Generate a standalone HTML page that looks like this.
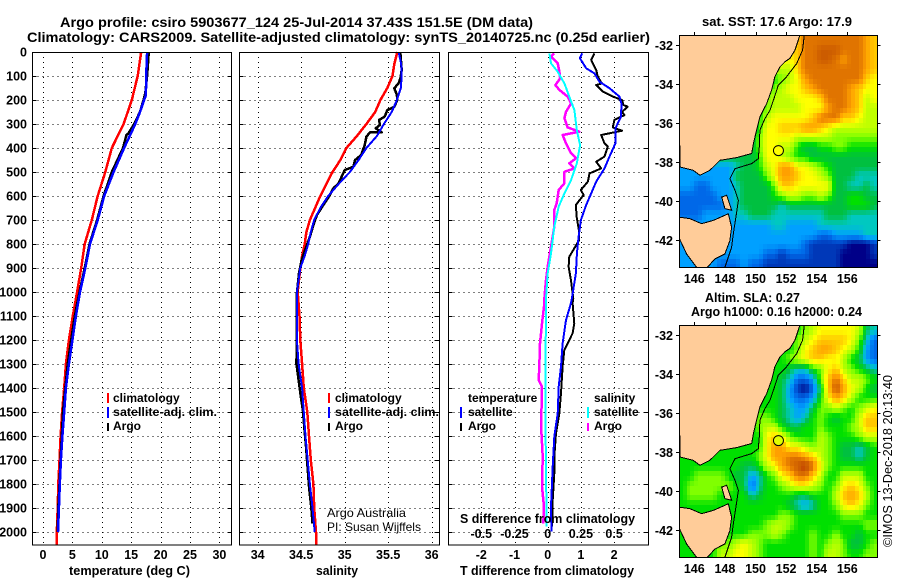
<!DOCTYPE html>
<html>
<head>
<meta charset="utf-8">
<title>Argo profile</title>
<style>
html,body{margin:0;padding:0;background:#fff;}
svg{display:block;}
text{font-family:"Liberation Sans",sans-serif;font-weight:bold;fill:#000;}
.lg{font-size:12px;}
.tk{font-size:12.5px;}
.thin{font-weight:normal;}
</style>
</head>
<body>
<svg id="chart" xmlns="http://www.w3.org/2000/svg" width="900" height="580" viewBox="0 0 900 580">
  <defs>
    <clipPath id="clip-sst"><rect x="679.5" y="35" width="198" height="232"/></clipPath>
    <clipPath id="clip-sla"><rect x="679.5" y="325" width="198" height="232"/></clipPath>
  </defs>
  <rect x="0" y="0" width="900" height="580" fill="#fff"/>
  <text x="60" y="27" font-size="13.5" textLength="473" lengthAdjust="spacingAndGlyphs">Argo profile: csiro 5903677_124 25-Jul-2014 37.43S 151.5E (DM data)</text>
  <text x="27" y="42" font-size="13.5" textLength="623" lengthAdjust="spacingAndGlyphs">Climatology: CARS2009. Satellite-adjusted climatology: synTS_20140725.nc (0.25d earlier)</text>

  <g id="p1"></g>
  <g id="p2"></g>
  <g id="p3"></g>
  <g id="m1"></g>
  <g id="m2"></g>

  <text x="69" y="575" font-size="12.5" textLength="121" lengthAdjust="spacingAndGlyphs">temperature (deg C)</text>
  <text x="316" y="575" font-size="12.5" textLength="42" lengthAdjust="spacingAndGlyphs">salinity</text>
  <text x="460" y="575" font-size="12.5" textLength="174" lengthAdjust="spacingAndGlyphs">T difference from climatology</text>

  <g>
    <rect x="107" y="393" width="2" height="10" fill="#f00"/>
    <text class="lg" x="113" y="402">climatology</text>
    <rect x="107" y="407" width="2" height="11" fill="#00f"/>
    <text class="lg" x="113" y="416" textLength="104" lengthAdjust="spacingAndGlyphs">satellite-adj. clim.</text>
    <rect x="107" y="423" width="2" height="8" fill="#000"/>
    <text class="lg" x="113" y="430">Argo</text>
  </g>
  <g>
    <rect x="328" y="393" width="2" height="10" fill="#f00"/>
    <text class="lg" x="335" y="402">climatology</text>
    <rect x="328" y="407" width="2" height="11" fill="#00f"/>
    <text class="lg" x="335" y="416" textLength="104" lengthAdjust="spacingAndGlyphs">satellite-adj. clim.</text>
    <rect x="328" y="423" width="2" height="8" fill="#000"/>
    <text class="lg" x="335" y="430">Argo</text>
  </g>
  <text class="thin" x="327" y="517" font-size="12" textLength="79" lengthAdjust="spacingAndGlyphs">Argo Australia</text>
  <text class="thin" x="327" y="531" font-size="12" textLength="94" lengthAdjust="spacingAndGlyphs">PI: Susan Wijffels</text>

  <g id="p3-overlay">
    <text class="lg" x="468" y="402">temperature</text>
    <rect x="460" y="407" width="2" height="11" fill="#00f"/>
    <text class="lg" x="468" y="416">satellite</text>
    <rect x="460" y="423" width="2" height="8" fill="#000"/>
    <text class="lg" x="468" y="430">Argo</text>
    <text class="lg" x="594" y="402">salinity</text>
    <rect x="587" y="407" width="2" height="11" fill="#0ff"/>
    <text class="lg" x="594" y="416">satellite</text>
    <rect x="587" y="423" width="2" height="8" fill="#f0f"/>
    <text class="lg" x="594" y="430">Argo</text>
    <text x="460" y="523" font-size="12.5" textLength="175" lengthAdjust="spacingAndGlyphs">S difference from climatology</text>
  </g>

  <text x="702" y="26" font-size="12.5" textLength="150" lengthAdjust="spacingAndGlyphs">sat. SST: 17.6 Argo: 17.9</text>
  <text x="705" y="302" font-size="12.5" textLength="95" lengthAdjust="spacingAndGlyphs">Altim. SLA: 0.27</text>
  <text x="691" y="316" font-size="12.5" textLength="171" lengthAdjust="spacingAndGlyphs">Argo h1000: 0.16 h2000: 0.24</text>
  <text class="thin" font-size="12.5" transform="translate(892,547) rotate(-90)" textLength="172" lengthAdjust="spacingAndGlyphs">©IMOS 13-Dec-2018 20:13:40</text>
</svg>
<script>
// ---------- profile data ----------
const gridDepths = [100,200,300,400,500,600,700,800,900,1000,1100,1200,1300,1400,1500,1600,1700,1800,1900,2000];
const depthLabels = [0,100,200,300,400,500,600,700,800,900,1000,1100,1200,1300,1400,1500,1600,1700,1800,1900,2000];
const tempTicks = [0,5,10,15,20,25,30];
const salTicks = [34,34.5,35,35.5,36];
const tDiffTicks = [-2,-1,0,1,2];
const sDiffTicks = [-0.5,-0.25,0,0.25,0.5];

const tempClimDepth = [0,100,200,300,400,500,600,700,800,900,1000,1100,1200,1300,1400,1500,1600,1700,1800,1900,2000,2055];
const tempClim = [16.7,16.1,15.1,13.7,11.7,10.6,9.3,8.3,7.1,6.5,5.8,5.06,4.4,3.9,3.6,3.25,3.0,2.8,2.6,2.5,2.35,2.3];
const tempSatDepth = [0,100,180,200,250,300,400,500,600,700,800,900,1000,1100,1200,1300,1400,1500,1600,1700,1800,1900,2000];
const tempSat = [17.7,17.55,17.5,17.2,16.5,15.7,13.8,12,10.4,9.3,8,7.2,6.3,5.6,5,4.4,3.9,3.6,3.3,3.05,2.85,2.7,2.55];
const tempArgoDepth = [0,100,170,200,250,300,340,345,400,500,600,700,800,900,1000,1100,1200,1300,1400,1500,1600,1700,1800,1900,2000];
const tempArgo = [18,17.7,17.4,17.1,16.5,15.5,14.5,14.2,13.6,11.7,10.3,9.2,7.9,7.1,6.2,5.4,4.8,4.2,3.8,3.4,3.2,3,2.8,2.6,2.5];

const salClimDepth = [0,50,100,150,200,250,300,350,400,450,500,550,600,650,700,750,800,850,900,1000,1100,1200,1300,1400,1500,1600,1700,1800,1900,2000,2055];
const salClim = [35.605,35.57,35.55,35.49,35.41,35.35,35.25,35.14,35.02,34.95,34.86,34.79,34.72,34.66,34.6,34.56,34.54,34.51,34.49,34.46,34.48,34.49,34.51,34.53,34.57,34.59,34.61,34.64,34.65,34.67,34.67];
const salSatDepth = [0,50,100,150,200,250,300,350,400,450,500,550,600,650,700,750,800,850,900,950,1000,1100,1200,1300,1400,1500,1600,1700,1800,1900,2000];
const salSat = [35.62,35.65,35.655,35.645,35.6,35.54,35.45,35.37,35.25,35.16,35.06,34.93,34.81,34.72,34.65,34.61,34.58,34.54,34.49,34.47,34.45,34.45,34.45,34.47,34.51,34.53,34.55,34.575,34.6,34.63,34.655];
const salArgoDepth = [5,75,110,130,151,179,200,228,242,269,283,304,318,335,335,353,388,429,450,478,492,519,547,568,596,637,679,721,769,825,867,922,1006,1103,1200,1297,1367,1436,1492,1561,1644,1714,1811,1894,1964];
const salArgo = [35.64,35.655,35.64,35.62,35.57,35.6,35.605,35.57,35.49,35.46,35.395,35.405,35.356,35.425,35.29,35.25,35.23,35.19,35.12,35.10,35.0,34.965,34.93,34.87,34.83,34.755,34.68,34.64,34.6,34.545,34.505,34.475,34.45,34.45,34.45,34.445,34.47,34.495,34.52,34.535,34.555,34.57,34.59,34.615,34.63];

const tDiffSatDepth = [6,26,68,89,124,151,186,214,269,318,381,436,485,540,589,637,700,769,839,922,1026,1047,1117,1214,1311,1394,1506,1603,1728,1894,1998];
const tDiffSat = [1.04,0.97,1.16,1.41,1.56,1.86,2.16,2.22,2.21,2.04,2.04,1.86,1.71,1.46,1.31,1.16,1.0,0.93,0.88,0.85,0.73,0.70,0.55,0.45,0.40,0.33,0.30,0.20,0.15,0.10,0.11];
const tDiffArgoDepth = [6,33,75,103,131,138,165,186,200,221,228,249,263,283,314,328,346,381,394,436,457,485,506,540,575,596,637,686,749,783,818,853,894,950,1026,1047,1131,1172,1242,1311,1422,1506,1589,1686,1756,1867,1978];
const tDiffArgo = [1.41,1.31,1.46,1.51,1.63,1.46,1.66,1.96,2.24,2.28,2.41,2.24,2.31,2.01,1.96,2.24,1.61,1.71,1.81,1.71,1.46,1.61,1.26,1.21,1.0,1.08,0.85,0.87,0.95,0.95,0.8,0.65,0.63,0.7,0.77,0.75,0.80,0.75,0.50,0.45,0.40,0.35,0.25,0.20,0.20,0.15,0.13];
const sDiffArgoDepth = [6,19,47,82,110,138,158,186,214,249,276,314,332,346,381,422,443,464,485,499,547,575,631,658,728,811,894,950,1026,1047,1131,1214,1311,1367,1394,1561,1686,1811,1894,1964];
const sDiffArgo = [0.05,0.025,0.075,0.088,0.093,0.058,0.088,0.15,0.176,0.138,0.126,0.15,0.239,0.113,0.138,0.176,0.214,0.163,0.201,0.126,0.126,0.083,0.068,0.05,0.05,0.025,0,-0.013,-0.025,-0.025,-0.043,-0.058,-0.063,-0.068,-0.043,-0.05,-0.038,-0.043,-0.028,-0.033];
const sDiffSatDepth = [6,47,82,131,186,242,325,388,464,533,589,644,728,839,922,1026,1117,1311,1478,1728,1978];
const sDiffSat = [0.013,0.025,0.075,0.126,0.163,0.201,0.219,0.244,0.219,0.176,0.126,0.083,0.05,0.025,0,-0.013,-0.013,-0.018,-0.018,-0.013,-0.008];

// ---------- map data: colour level per 0.5 degree cell, rows north to south, right-aligned to the east edge ----------
const lonTicks = [146,148,150,152,154,156];
const latTicks = [-32,-34,-36,-38,-40,-42];
const sstLevels = [
[10,12,12,12,12,12,12,12,12,11,10],
[10,12,12,13,13,13,12,12,12,11,10],
[9,10,12,12,13,13,12,11,12,12,11,10],
[8,8,10,12,12,12,12,12,12,12,12,11,10],
[6,7,8,9,11,12,12,12,12,12,12,12,10,9],
[6,7,8,9,9,10,11,12,12,12,12,11,10,9,9],
[7,8,8,8,9,9,9,10,12,12,12,11,10,8,9],
[6,7,8,8,8,8,9,9,9,11,12,12,11,10,8,8],
[6,8,9,9,9,9,9,10,12,12,12,10,10,9,8,8],
[5,6,9,9,10,10,10,11,11,10,9,8,8,8,8,8,8],
[5,7,9,9,9,9,8,8,8,8,8,7,7,7,7,7,7],
[5,7,9,9,8,8,6,5,5,6,6,7,7,6,6,6,6],
[5,6,9,9,8,7,6,6,5,5,5,5,5,5,5,5,5],
[3,3,3,3,3,3,3,4,5,5,6,8,9,11,11,9,9,8,7,6,5,5,5,5,5,5],
[3,3,3,3,3,3,3,5,5,5,5,7,9,11,11,10,9,9,8,7,5,5,5,4,4,4],
[3,3,2,2,3,3,3,4,5,5,5,5,7,10,10,9,9,9,9,9,5,5,4,4,5,4],
[2,2,2,2,2,3,3,4,5,5,5,5,6,7,8,8,7,7,8,7,5,5,6,6,5,5],
[2,2,2,2,2,2,3,4,5,5,5,5,5,4,5,5,5,5,5,5,5,5,6,6,6,5],
[2,2,2,3,3,3,3,4,4,5,5,5,4,4,4,4,4,4,4,5,5,5,4,4,4,4],
[3,3,3,3,3,3,3,3,3,3,3,3,4,4,3,3,3,3,4,4,4,4,4,4,4,4],
[3,3,3,3,3,3,3,3,3,3,3,3,3,3,3,3,3,3,2,2,3,3,3,3,4,4],
[3,3,3,3,3,3,3,3,3,3,3,3,3,3,3,3,2,1,1,1,1,1,0,0,0,1],
[3,3,3,3,3,3,3,3,3,3,3,2,2,1,2,2,2,1,1,1,1,0,0,0,0,1],
[3,3,3,3,3,2,2,2,3,2,2,1,1,1,1,1,1,1,1,1,1,0,0,0,0,0]
];
const slaLevels = [
[6,7,8,9,9,9,9,9,8,5,4],
[6,7,8,9,10,10,10,10,9,7,4,2],
[6,7,9,10,11,11,10,9,8,6,3,2],
[6,7,8,9,10,10,9,9,8,6,5,3,2],
[6,6,5,4,4,6,7,9,10,8,7,6,5,4],
[6,6,5,4,2,2,3,7,10,12,10,8,8,7,6],
[6,6,5,3,1,0,2,5,10,13,11,9,8,6,5],
[6,6,6,5,3,2,2,3,6,9,11,10,8,6,6,6],
[6,6,6,5,4,3,3,5,7,7,8,7,6,7,8,9],
[6,7,7,6,5,4,3,4,6,7,6,5,6,6,8,10,10],
[6,7,8,8,6,5,5,6,6,7,6,6,6,7,8,10,10],
[6,6,9,10,9,7,6,6,6,8,7,6,6,6,7,8,8],
[6,6,9,11,11,9,9,8,7,8,7,6,5,5,4,5,6],
[6,6,6,6,6,6,6,6,6,6,7,9,11,11,12,12,11,10,8,7,6,5,5,4,5,6],
[6,6,6,6,6,6,6,6,5,5,6,8,9,11,12,13,14,12,9,7,6,6,6,6,6,6],
[6,6,7,7,7,7,6,5,5,3,4,6,7,9,10,12,12,10,8,6,6,8,8,8,6,6],
[6,7,7,7,7,7,7,6,5,2,4,6,6,7,8,9,9,8,7,6,7,9,10,9,7,6],
[6,7,7,7,7,6,6,6,6,4,5,6,6,6,6,5,5,6,6,6,8,10,11,10,8,6],
[6,6,6,6,6,6,6,6,6,6,6,6,6,6,5,4,3,4,6,6,7,9,10,9,7,6],
[6,6,6,6,6,6,6,6,6,6,6,6,6,7,7,6,6,6,6,6,6,7,7,7,6,6],
[6,6,6,6,6,6,6,6,6,6,6,7,8,8,7,6,6,6,6,6,6,6,6,6,7,7],
[6,6,6,6,6,6,6,6,6,7,7,7,8,7,6,6,6,7,6,6,7,6,6,5,6,6],
[6,6,6,6,6,7,7,8,9,8,7,6,6,6,6,6,6,7,6,7,8,7,5,5,6,7],
[6,6,6,6,6,8,8,9,9,8,7,6,6,6,6,6,6,7,6,8,8,7,6,6,7,7]
];
const levelColors = ['#000088','#0038b8','#0068e8','#00a0ff','#00c8c0','#00c040','#00e000','#80ff00','#c0ff00','#ffff00','#ffc800','#ffa000','#e07400','#cc5c00','#c03000'];
const sstMarkerLevel = [9];
const slaMarkerLevel = [8.5];

const mainlandLon = [152.91,152.58,152.25,151.93,151.6,151.27,151.05,150.73,150.29,150.07,149.86,149.75,148.77,147.68,147.02,146.37,145.93,145.06,145.0];
const mainlandLat = [-31.48,-32.26,-32.69,-32.86,-33.12,-33.63,-34.32,-35.01,-35.7,-36.38,-37.07,-37.58,-37.79,-37.93,-38.44,-38.7,-38.44,-38.27,-31.48];
const tasmaniaLon = [145.0,145.72,146.48,147.24,148.22,148.44,148.33,148.0,147.35,146.85,146.15,145.5,145.0];
const tasmaniaLat = [-40.85,-40.93,-41.19,-41.02,-40.68,-41.36,-42.05,-42.74,-43.0,-43.43,-43.43,-42.74,-41.91];
const islandLon = [147.79,148.12,148.3,148.44,148.0];
const islandLat = [-39.82,-39.73,-40.16,-40.5,-40.41];
const isobathLon = [153.19,153.08,152.69,152.03,151.49,151.21,150.95,150.62,150.29,150.25,150.18,149.75,148.66,148.33,148.66,148.88,148.72,148.55,148.44,148.0];
const isobathLat = [-31.48,-32.26,-32.95,-33.63,-34.06,-34.75,-35.35,-35.78,-36.38,-37.24,-37.84,-38.1,-38.36,-38.87,-39.47,-39.99,-40.85,-41.71,-42.4,-43.43];
const profileLon = [151.5];
const profileLat = [-37.43];

// ---------- axis functions ----------
const yD = d => 52 + d * 0.24;
const xT = t => 43 + t * 5.88;
const xS = s => 257.7 + (s - 34) * 87;
const xTD = t => 547.7 + t * 33.2;
const xSD = s => xTD(s * 4);
const xLon = lon => 694.3 + (lon - 146) * 15.3;
const yLat = (lat, origin) => origin + (-32 - lat) * 19.45;

const NS = 'http://www.w3.org/2000/svg';
function mk(tag, parent, attrs) {
  const el = document.createElementNS(NS, tag);
  for (const k in attrs) el.setAttribute(k, attrs[k]);
  parent.appendChild(el);
  return el;
}

function drawSeries(parent, name, depths, values, xf, color, width) {
  const pts = depths.map((d, i) => xf(values[i]).toFixed(1) + ',' + yD(d).toFixed(1)).join(' ');
  const line = mk('polyline', parent, {points: pts, fill: 'none', stroke: color, 'stroke-width': width, 'shape-rendering': 'crispEdges', 'stroke-linejoin': 'round'});
  
  
}

function drawFrame(parent, left, right, xTicks, xf) {
  const top = 52, bottom = 545;
  gridDepths.forEach(d => {
    const y = Math.round(yD(d)) + 0.5;
    const g = mk('line', parent, {x1: left, x2: right, y1: y, y2: y, stroke: '#000', 'stroke-dasharray': '1 4'});
    
    
    const t1 = mk('line', parent, {x1: left, x2: left + 4, y1: y, y2: y, stroke: '#000'});
    
    
    const t2 = mk('line', parent, {x1: right - 4, x2: right, y1: y, y2: y, stroke: '#000'});
    
    
  });
  xTicks.forEach(v => {
    const x = Math.round(xf(v)) + 0.5;
    const g = mk('line', parent, {x1: x, x2: x, y1: top, y2: bottom, stroke: '#000', 'stroke-dasharray': '1 4'});
    
    
    const lab = mk('text', parent, {x: xf(v), y: 559, 'text-anchor': 'middle', class: 'tk'});
    
    
    lab.textContent = v;
  });
}

function drawBorder(parent, left, right) {
  const f = mk('rect', parent, {x: left, y: 52.5, width: right - left, height: 492.5, fill: 'none', stroke: '#000'});
  
  
}

// ---------- panels ----------
const p1 = document.getElementById('p1');
drawFrame(p1, 32.5, 231.5, tempTicks, xT);
drawSeries(p1, 'temperature-climatology-line', tempClimDepth, tempClim, xT, '#f00', 2.5);
drawSeries(p1, 'temperature-argo-line', tempArgoDepth, tempArgo, xT, '#000', 2.5);
drawSeries(p1, 'temperature-satellite-line', tempSatDepth, tempSat, xT, '#00f', 2.5);
drawBorder(p1, 32.5, 231.5);
depthLabels.forEach(d => {
  const lab = mk('text', p1, {x: 27, y: yD(d) + 4.5, 'text-anchor': 'end', class: 'tk'});
  
  
  lab.textContent = d;
});

const p2 = document.getElementById('p2');
drawFrame(p2, 239.5, 439.5, salTicks, xS);
drawSeries(p2, 'salinity-climatology-line', salClimDepth, salClim, xS, '#f00', 2.5);
drawSeries(p2, 'salinity-argo-line', salArgoDepth, salArgo, xS, '#000', 2.5);
drawSeries(p2, 'salinity-satellite-line', salSatDepth, salSat, xS, '#00f', 2);
drawBorder(p2, 239.5, 439.5);

const p3 = document.getElementById('p3');
drawFrame(p3, 448.5, 648.5, tDiffTicks, xTD);
drawSeries(p3, 't-diff-argo-line', tDiffArgoDepth, tDiffArgo, xTD, '#000', 2);
drawSeries(p3, 't-diff-satellite-line', tDiffSatDepth, tDiffSat, xTD, '#00f', 2);
drawSeries(p3, 's-diff-argo-line', sDiffArgoDepth, sDiffArgo, xSD, '#f0f', 2.5);
drawSeries(p3, 's-diff-satellite-line', sDiffSatDepth, sDiffSat, xSD, '#0ff', 2);
drawBorder(p3, 448.5, 648.5);
sDiffTicks.forEach(v => {
  const lab = mk('text', document.getElementById('p3-overlay'), {x: xSD(v), y: 538, 'text-anchor': 'middle', class: 'tk'});
  
  
  lab.textContent = v;
});

// ---------- maps ----------
function polyPoints(lons, lats, origin) {
  return lons.map((lon, i) => xLon(lon).toFixed(1) + ',' + yLat(lats[i], origin).toFixed(1)).join(' ');
}

function levelColor(level) {
  const lo = Math.max(0, Math.min(levelColors.length - 1, Math.floor(level)));
  const hi = Math.min(levelColors.length - 1, lo + 1);
  const f = Math.max(0, Math.min(1, level - lo));
  const a = levelColors[lo], b = levelColors[hi];
  const ch = i => {
    const u = parseInt(a.substr(i, 2), 16), v = parseInt(b.substr(i, 2), 16);
    return Math.round(u + (v - u) * f);
  };
  return 'rgb(' + ch(1) + ',' + ch(3) + ',' + ch(5) + ')';
}

function drawMap(gid, clipId, levels, topY, prefix, markerLevel) {
  const g = document.getElementById(gid);
  const inner = mk('g', g, {'clip-path': 'url(#' + clipId + ')'});
  
  
  const origin = topY + 10;
  // pad the land-covered western part of each row with the row's first value
  const full = levels.map(row => new Array(26 - row.length).fill(row[0]).concat(row));
  const nRows = full.length;
  const sub = 2;
  const at = (r, c) => full[Math.max(0, Math.min(nRows - 1, r))][Math.max(0, Math.min(25, c))];
  for (let j = 0; j < nRows * sub; j++) {
    for (let i = 0; i < 26 * sub; i++) {
      const u = (i + 0.5) / sub - 0.5, v = (j + 0.5) / sub - 0.5;
      const c0 = Math.floor(u), r0 = Math.floor(v);
      const fu = u - c0, fv = v - r0;
      const level = at(r0, c0) * (1 - fu) * (1 - fv) + at(r0, c0 + 1) * fu * (1 - fv) + at(r0 + 1, c0) * (1 - fu) * fv + at(r0 + 1, c0 + 1) * fu * fv;
      const lon0 = 145 + i * 0.5 / sub, lat0 = -31.5 - j * 0.5 / sub;
      const x0 = Math.round(xLon(lon0)), x1 = Math.round(xLon(lon0 + 0.5 / sub));
      const y0 = Math.round(yLat(lat0, origin)), y1 = Math.round(yLat(lat0 - 0.5 / sub, origin));
      const c = mk('rect', inner, {x: x0, y: y0, width: x1 - x0, height: y1 - y0, fill: levelColor(level), 'shape-rendering': 'crispEdges'});
      
      
    }
  }
  const land = [['mainland', mainlandLon, mainlandLat], ['tasmania', tasmaniaLon, tasmaniaLat], ['flinders-island', islandLon, islandLat]];
  land.forEach(item => {
    const p = mk('polygon', inner, {points: polyPoints(item[1], item[2], origin), fill: '#ffcc99', stroke: '#000', 'stroke-width': 1, 'shape-rendering': 'crispEdges'});
    
    
  });
  const iso = mk('polyline', inner, {points: polyPoints(isobathLon, isobathLat, origin), fill: 'none', stroke: '#000', 'stroke-width': 1, 'shape-rendering': 'crispEdges'});
  
  
  const marker = mk('circle', inner, {cx: xLon(profileLon[0]), cy: yLat(profileLat[0], origin), r: 5, fill: levelColor(markerLevel[0]), stroke: '#000', 'stroke-width': 1});
  
  
  const frame = mk('rect', g, {x: 679.5, y: topY + 0.5, width: 198, height: 232, fill: 'none', stroke: '#000'});
  
  
  lonTicks.forEach(lon => {
    const x = Math.round(xLon(lon)) + 0.5;
    const t = mk('line', g, {x1: x, x2: x, y1: topY - 3, y2: topY, stroke: '#000'});
    
    
    const lab = mk('text', g, {x: xLon(lon), y: topY + 248, 'text-anchor': 'middle', class: 'tk'});
    
    
    lab.textContent = lon;
  });
  latTicks.forEach(lat => {
    const y = Math.round(yLat(lat, origin)) + 0.5;
    const t1 = mk('line', g, {x1: 676, x2: 679.5, y1: y, y2: y, stroke: '#000'});
    
    
    const t2 = mk('line', g, {x1: 877.5, x2: 880.5, y1: y, y2: y, stroke: '#000'});
    
    
    const lab = mk('text', g, {x: 673, y: y + 4.5, 'text-anchor': 'end', class: 'tk'});
    
    
    lab.textContent = lat;
  });
}
drawMap('m1', 'clip-sst', sstLevels, 35, 'sst', sstMarkerLevel);
drawMap('m2', 'clip-sla', slaLevels, 325, 'sla', slaMarkerLevel);
</script>
</body>
</html>
